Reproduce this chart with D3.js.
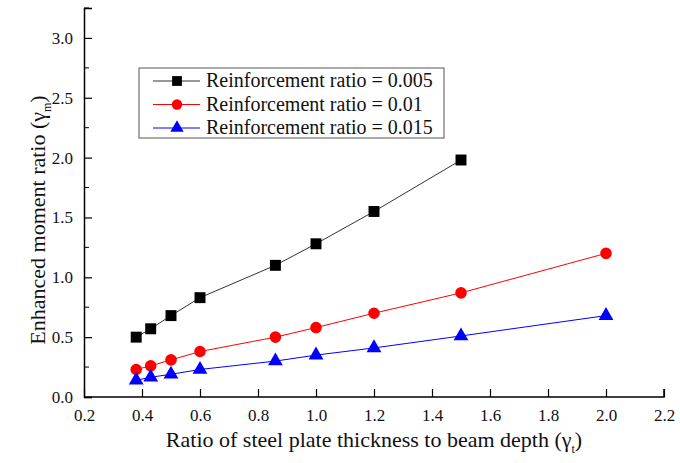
<!DOCTYPE html>
<html>
<head>
<meta charset="utf-8">
<script src="https://cdn.jsdelivr.net/npm/d3@7"></script>
<style>
  body { margin: 0; background: #fff; }
</style>
</head>
<body>
<div id="chart"></div>
<script>
// data
var xValues = [0.38, 0.43, 0.5, 0.6, 0.86, 1.0, 1.2, 1.5, 2.0]
var ratio005 = [0.50, 0.57, 0.68, 0.83, 1.10, 1.28, 1.55, 1.98]
var ratio010 = [0.23, 0.26, 0.31, 0.38, 0.50, 0.58, 0.70, 0.87, 1.20]
var ratio015 = [0.14, 0.165, 0.19, 0.23, 0.30, 0.35, 0.41, 0.51, 0.68]
var seriesNames = ["Reinforcement ratio = 0.005", "Reinforcement ratio = 0.01", "Reinforcement ratio = 0.015"]
var xTicks = [0.2, 0.4, 0.6, 0.8, 1.0, 1.2, 1.4, 1.6, 1.8, 2.0, 2.2]
var yTicks = [0.0, 0.5, 1.0, 1.5, 2.0, 2.5, 3.0]

var serif = "'Liberation Serif', 'Times New Roman', serif"
var width = 680, height = 463
var margin = { top: 8, right: 16, bottom: 66, left: 84 }

var svg = d3.select("#chart").append("svg")
  .attr("width", width)
  .attr("height", height)
  .attr("font-family", serif)

var x = d3.scaleLinear().domain([0.2, 2.2]).range([margin.left, width - margin.right])
var y = d3.scaleLinear().domain([0, 3.25]).range([height - margin.bottom, margin.top])

var series = [
  { name: seriesNames[0], values: ratio005, color: "#000000", line: "#333", shape: d3.symbolSquare, size: 120 },
  { name: seriesNames[1], values: ratio010, color: "#ff0000", line: "#ff0000", shape: d3.symbolCircle, size: 105 },
  { name: seriesNames[2], values: ratio015, color: "#0000ff", line: "#0000ff", shape: d3.symbolTriangle, size: 95 }
]

// axes
var xAxis = d3.axisBottom(x).tickValues(xTicks).tickSize(-8).tickPadding(12).tickFormat(d3.format(".1f"))
var yAxis = d3.axisLeft(y).tickValues(yTicks).tickSize(-8).tickPadding(11).tickFormat(d3.format(".1f"))

var gx = svg.append("g")
  .attr("transform", "translate(0," + y(0) + ")")
  .call(xAxis)
var gy = svg.append("g")
  .attr("transform", "translate(" + x(0.2) + ",0)")
  .call(yAxis)

// minor y ticks
gy.selectAll(".minor")
  .data([0.25, 0.75, 1.25, 1.75, 2.25, 2.75])
  .enter()
  .append("line")
    .attr("x1", 0).attr("x2", 5)
    .attr("y1", function(d){ return y(d) })
    .attr("y2", function(d){ return y(d) })
    .attr("stroke", "#000")

// small cap at top of y axis
gy.append("line")
  .attr("x1", 0).attr("x2", 5)
  .attr("y1", y(3.25)).attr("y2", y(3.25))
  .attr("stroke", "#000")

;[gx, gy].forEach(function(g){
  g.attr("font-family", serif)
  g.select(".domain").attr("stroke", "#000").attr("stroke-width", 1.5)
  g.selectAll(".tick line").attr("stroke", "#000").attr("stroke-width", 1.2)
  g.selectAll(".tick text").attr("font-size", 17).attr("fill", "#111")
})
gx.select(".domain").attr("d", "M" + x(0.2) + ",0H" + x(2.2) + "V-8")

// axis titles
svg.append("text")
  .attr("x", (x(0.2) + x(2.2)) / 2)
  .attr("y", 447)
  .attr("text-anchor", "middle")
  .attr("font-size", 22)
  .attr("fill", "#111")
  .html("Ratio of steel plate thickness to beam depth (γ<tspan font-size='12' dy='6'>t</tspan><tspan dy='-6'>)</tspan>")

svg.append("text")
  .attr("transform", "translate(45,220) rotate(-90)")
  .attr("text-anchor", "middle")
  .attr("font-size", 22)
  .attr("fill", "#111")
  .html("Enhanced moment ratio (γ<tspan font-size='12' dy='6'>m</tspan><tspan dy='-6'>)</tspan>")

// lines and markers
var line = d3.line()
  .x(function(d){ return x(d[0]) })
  .y(function(d){ return y(d[1]) })

series.forEach(function(s){
  var pts = s.values.map(function(v, i){ return [xValues[i], v] })
  svg.append("path")
    .attr("d", line(pts))
    .attr("fill", "none")
    .attr("stroke", s.line)
    .attr("stroke-width", 1)
  svg.selectAll(null)
    .data(pts)
    .enter()
    .append("path")
      .attr("d", d3.symbol().type(s.shape).size(s.size))
      .attr("transform", function(d){ return "translate(" + x(d[0]) + "," + y(d[1]) + ")" })
      .attr("fill", s.color)
})

// legend
var legend = svg.append("g").attr("transform", "translate(139,68)")
legend.append("rect")
  .attr("width", 305).attr("height", 70)
  .attr("fill", "#fff").attr("stroke", "#555").attr("stroke-width", 1)
series.forEach(function(s, i){
  var ly = 13 + i * 23.5
  legend.append("line")
    .attr("x1", 14).attr("x2", 61)
    .attr("y1", ly).attr("y2", ly)
    .attr("stroke", s.line).attr("stroke-width", 1)
  legend.append("path")
    .attr("d", d3.symbol().type(s.shape).size(s.size * 0.8))
    .attr("transform", "translate(38," + ly + ")")
    .attr("fill", s.color)
  legend.append("text")
    .attr("x", 67).attr("y", ly + 6)
    .attr("font-size", 20)
    .attr("fill", "#111")
    .text(s.name)
})
</script>
</body>
</html>
